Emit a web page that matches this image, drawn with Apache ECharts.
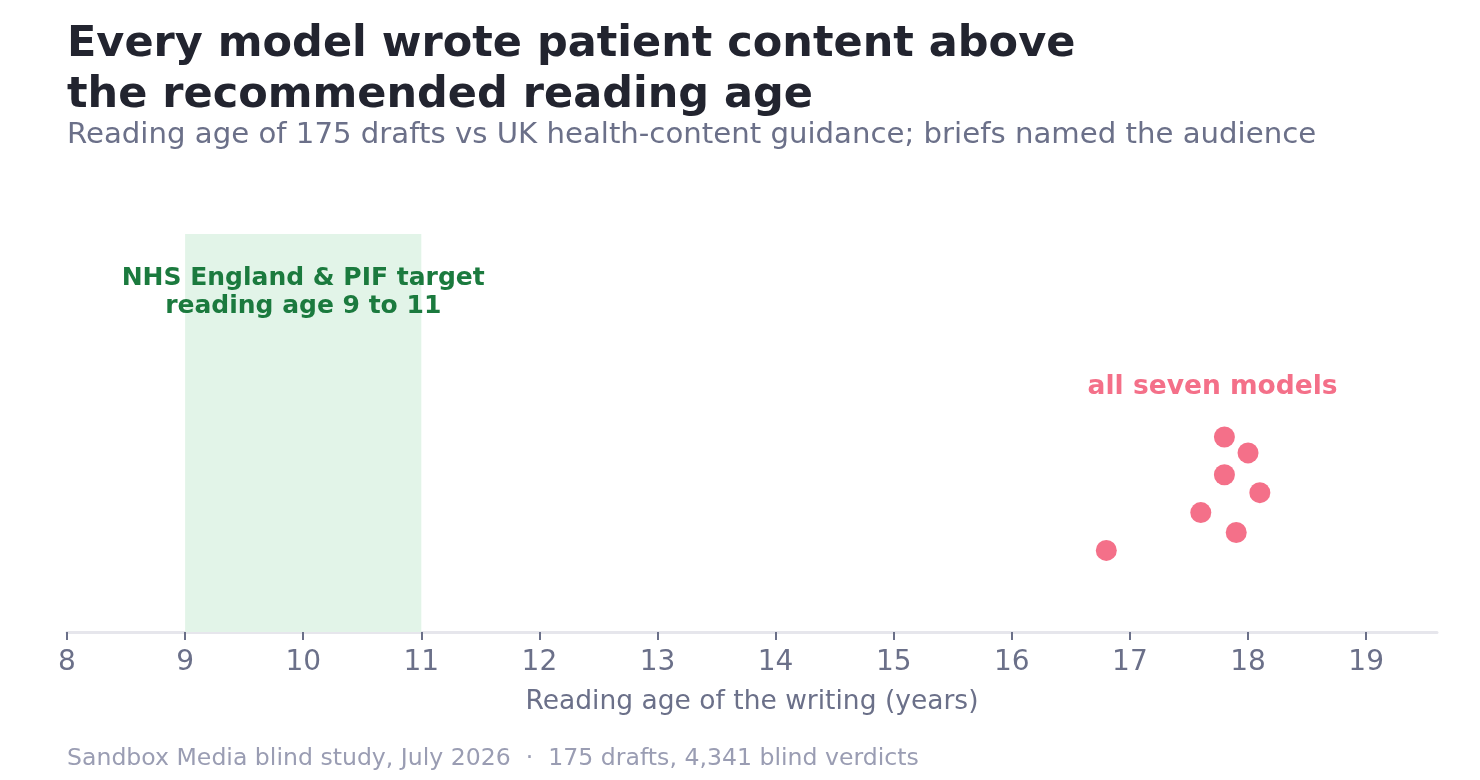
<!DOCTYPE html>
<html>
<head>
<meta charset="utf-8">
<script src="https://cdn.jsdelivr.net/npm/echarts@6/dist/echarts.min.js"></script>
<style>
  html, body { margin: 0; padding: 0; background: #fff; }
  #chart1 { width: 1480px; height: 780px; }
</style>
</head>
<body>
<div id="chart1"></div>
<script>
// reading age of each model's drafts (years)
var readingAges = [17.8, 18.0, 17.8, 18.1, 17.6, 17.9, 16.8];
// vertical spread only, so the dots don't overlap
var spread = [0.49, 0.45, 0.395, 0.35, 0.3, 0.25, 0.205];
var targetBand = [9, 11];
var xTicks = [8, 9, 10, 11, 12, 13, 14, 15, 16, 17, 18, 19];

var points = readingAges.map(function (v, i) { return [v, spread[i]]; });

var font = 'DejaVu Sans';
var chartDom = document.getElementById('chart1');
var myChart = echarts.init(chartDom);
var option;

option = {
  backgroundColor: '#ffffff',
  textStyle: { fontFamily: font },
  title: [
    {
      text: 'Every model wrote patient content above\nthe recommended reading age',
      subtext: 'Reading age of 175 drafts vs UK health-content guidance; briefs named the audience',
      left: 62,
      top: 14,
      itemGap: 0,
      textStyle: { fontFamily: font, fontSize: 43, fontWeight: 'bold', color: '#22242f', lineHeight: 51 },
      subtextStyle: { fontFamily: font, fontSize: 29.2, color: '#6b7089', lineHeight: 28 }
    },
    {
      text: 'Sandbox Media blind study, July 2026  \u00b7  175 drafts, 4,341 blind verdicts',
      left: 62,
      top: 742,
      textStyle: { fontFamily: font, fontSize: 23.6, fontWeight: 'normal', color: '#9a9db3' }
    }
  ],
  grid: { left: 67, right: 43, top: 234, bottom: 148 },
  xAxis: {
    type: 'value',
    min: 8,
    max: 19.6,
    interval: 1,
    name: 'Reading age of the writing (years)',
    nameLocation: 'middle',
    nameGap: 57,
    nameTextStyle: { fontFamily: font, fontSize: 26.5, color: '#6b7089' },
    axisLine: { show: true, lineStyle: { color: '#e6e6ec', width: 3 } },
    axisTick: { show: true, length: 8, lineStyle: { color: '#6b7089', width: 2 }, customValues: xTicks },
    axisLabel: { fontFamily: font, fontSize: 28, color: '#6b7089', margin: 17, customValues: xTicks },
    splitLine: { show: false }
  },
  yAxis: {
    type: 'value',
    min: 0,
    max: 1,
    show: false
  },
  series: [
    {
      type: 'scatter',
      data: points,
      symbolSize: 21,
      itemStyle: { color: '#f47089', opacity: 1 },
      z: 5,
      markArea: {
        silent: true,
        itemStyle: { color: '#e2f4e8' },
        label: {
          show: true,
          position: 'insideTop',
          distance: 30,
          fontFamily: font,
          fontSize: 25,
          fontWeight: 'bold',
          color: '#1b7a3e',
          lineHeight: 28,
          formatter: 'NHS England & PIF target\nreading age 9 to 11'
        },
        data: [[{ xAxis: targetBand[0] }, { xAxis: targetBand[1] }]]
      },
      markPoint: {
        silent: true,
        symbol: 'circle',
        symbolSize: 0,
        label: {
          show: true,
          position: 'inside',
          fontFamily: font,
          fontSize: 26.5,
          fontWeight: 'bold',
          color: '#f47089',
          formatter: 'all seven models'
        },
        data: [{ coord: [17.7, 0.615] }]
      }
    }
  ]
};

option && myChart.setOption(option);
window.onresize = function () {
  myChart.resize();
};
</script>
</body>
</html>
